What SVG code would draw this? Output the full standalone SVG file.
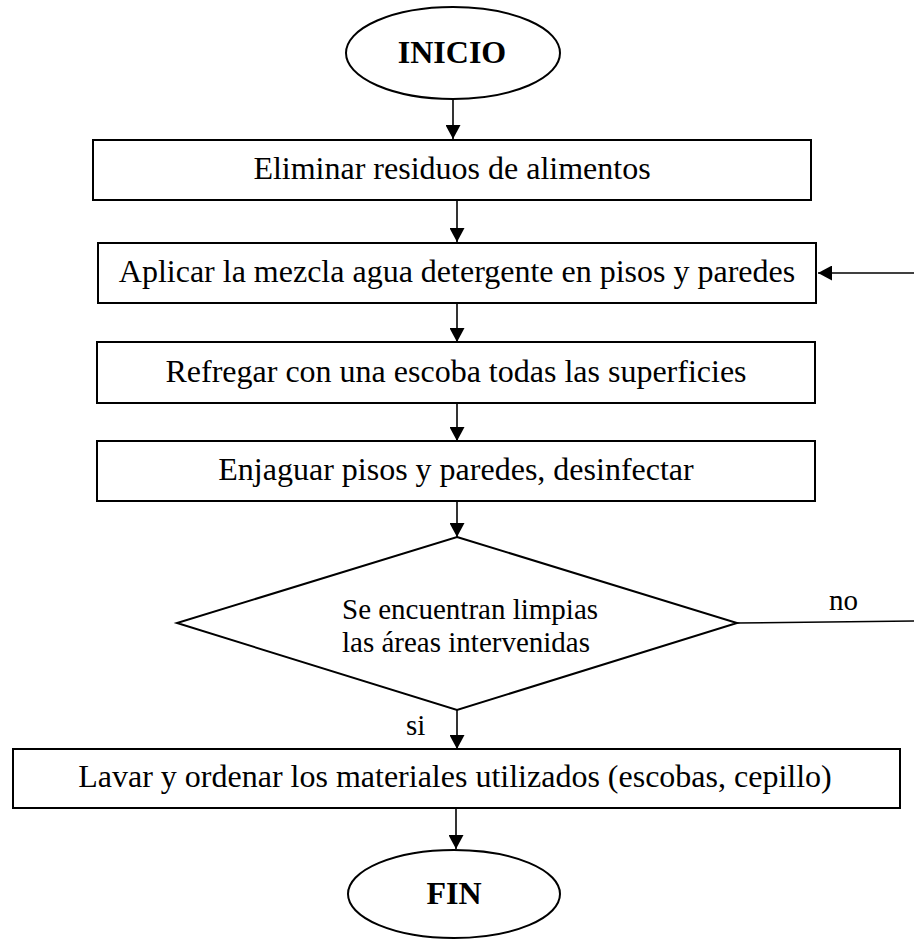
<svg xmlns="http://www.w3.org/2000/svg" width="914" height="939" viewBox="0 0 914 939">
<style>
.shape{fill:#fff;stroke:#000;stroke-width:2}
.t{font-family:"Liberation Serif","Times New Roman",serif;font-size:32px;fill:#000;text-anchor:middle}
.b{font-weight:bold}
.s{font-family:"Liberation Serif","Times New Roman",serif;font-size:29px;fill:#000}
.c{fill:none;stroke:#000;stroke-width:1.6}
</style>
<defs>
<marker id="ah" viewBox="0 0 14 15" refX="14" refY="7.5" markerWidth="14" markerHeight="15" markerUnits="userSpaceOnUse" orient="auto">
<path d="M0,0 L14,7.5 L0,15 Z" fill="#000"/>
</marker>
</defs>
<rect width="914" height="939" fill="#fff"/>
<g id="connectors">
<line class="c" x1="453" y1="99" x2="453" y2="139" marker-end="url(#ah)"/>
<line class="c" x1="457" y1="200" x2="457" y2="242" marker-end="url(#ah)"/>
<line class="c" x1="457" y1="303" x2="457" y2="342" marker-end="url(#ah)"/>
<line class="c" x1="457" y1="403" x2="457" y2="441" marker-end="url(#ah)"/>
<line class="c" x1="457" y1="501" x2="457" y2="537" marker-end="url(#ah)"/>
<line class="c" x1="457" y1="710" x2="457" y2="749" marker-end="url(#ah)"/>
<line class="c" x1="456" y1="808" x2="456" y2="849" marker-end="url(#ah)"/>
<line class="c" x1="737" y1="623" x2="914" y2="621"/>
<line class="c" x1="914" y1="273" x2="818" y2="273" marker-end="url(#ah)"/>
<text class="s" x="829" y="610">no</text>
<text class="s" x="406" y="735">si</text>
</g>
<g id="inicio">
<ellipse class="shape" cx="453" cy="53" rx="107" ry="46"/>
<text class="t b" x="452" y="63">INICIO</text>
</g>
<g id="eliminar">
<rect class="shape" x="93" y="140" width="718" height="60"/>
<text class="t" x="452" y="179">Eliminar residuos de alimentos</text>
</g>
<g id="aplicar">
<rect class="shape" x="98" y="243" width="718" height="60"/>
<text class="t" x="457" y="282">Aplicar la mezcla agua detergente en pisos y paredes</text>
</g>
<g id="refregar">
<rect class="shape" x="97" y="342" width="718" height="61"/>
<text class="t" x="456" y="382">Refregar con una escoba todas las superficies</text>
</g>
<g id="enjaguar">
<rect class="shape" x="97" y="441" width="718" height="60"/>
<text class="t" x="456" y="480">Enjaguar pisos y paredes, desinfectar</text>
</g>
<g id="decision">
<polygon class="shape" points="457,537 737,623 457,710 177,623"/>
<text class="s" x="342" y="619">Se encuentran limpias</text>
<text class="s" x="342" y="652">las áreas intervenidas</text>
</g>
<g id="lavar">
<rect class="shape" x="13" y="749" width="887" height="59"/>
<text class="t" x="455" y="787">Lavar y ordenar los materiales utilizados (escobas, cepillo)</text>
</g>
<g id="fin">
<ellipse class="shape" cx="454" cy="894" rx="106" ry="44"/>
<text class="t b" x="454" y="904">FIN</text>
</g>
</svg>
